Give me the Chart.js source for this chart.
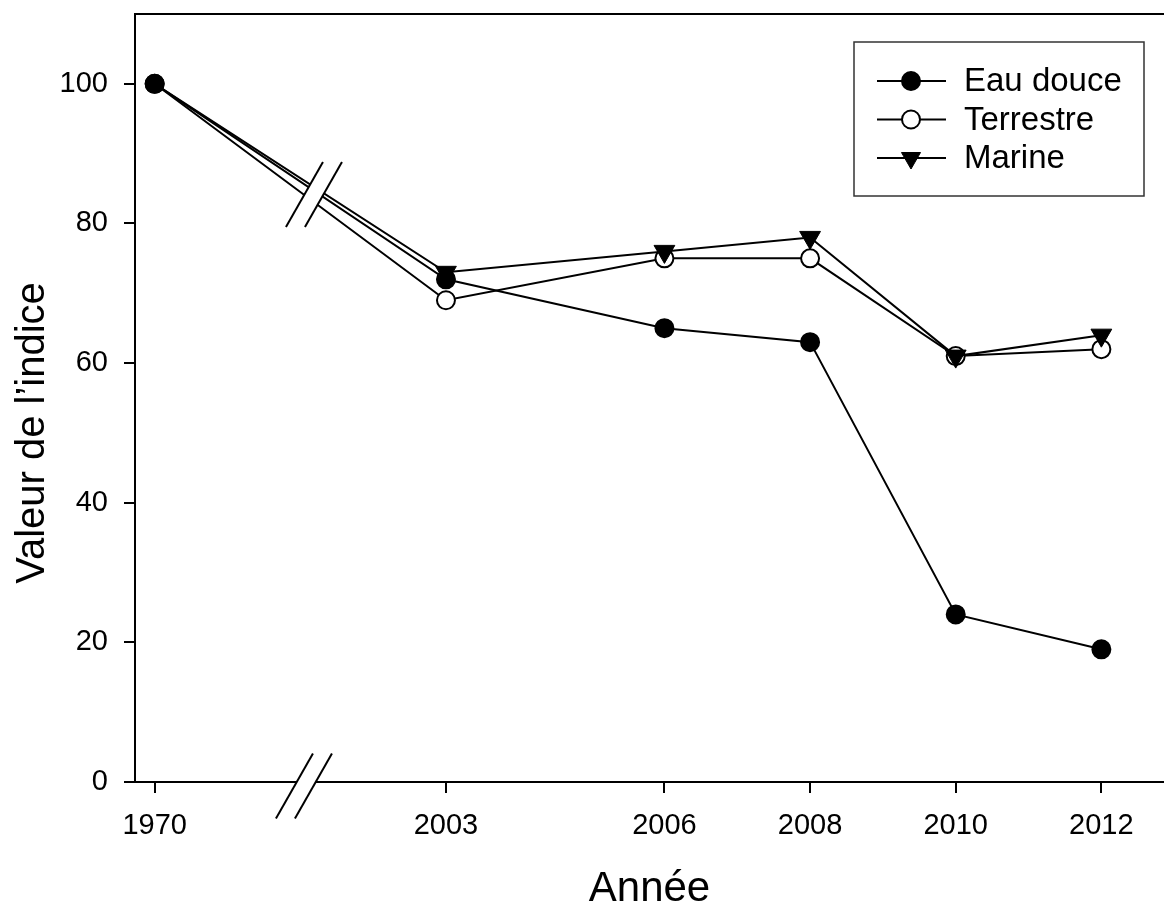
<!DOCTYPE html>
<html>
<head>
<meta charset="utf-8">
<script src="https://cdn.jsdelivr.net/npm/chart.js@4/dist/chart.umd.min.js"></script>
<style>
html, body { margin: 0; padding: 0; background: #fff; overflow: hidden; }
canvas { display: block; }
</style>
</head>
<body>
<canvas id="indexChart" width="1164" height="910"></canvas>
<script>
const years = [1970, 2003, 2006, 2008, 2010, 2012];
const eauDouce = [100, 72, 65, 63, 24, 19];
const terrestre = [100, 69, 75, 75, 61, 62];
const marine = [100, 73, 76, 78, 61, 64];
const yTickValues = [0, 20, 40, 60, 80, 100];

// broken x axis: 1970 sits 4 years before 2003
const breakShift = 29;
const breakAt = 2001.05;
function axisYear(y) { return y < 2000 ? y + breakShift : y; }
function realYear(v) { return v < 2000 ? v - breakShift : v; }

const fontFamily = '"Liberation Sans", Arial, sans-serif';

function toPoints(values) {
    return values.map((v, i) => ({ x: axisYear(years[i]), y: v }));
}

function drawMarker(ctx, ds, x, y) {
    ctx.save();
    ctx.fillStyle = ds.pointBackgroundColor;
    ctx.strokeStyle = '#000';
    ctx.lineWidth = ds.pointBorderWidth;
    ctx.beginPath();
    if (ds.pointStyle === 'triangle') {
        const r = 11;
        ctx.moveTo(x - r * 0.866, y - r * 0.5);
        ctx.lineTo(x + r * 0.866, y - r * 0.5);
        ctx.lineTo(x, y + r);
        ctx.closePath();
    } else {
        ctx.arc(x, y, ds.pointRadius, 0, Math.PI * 2);
    }
    ctx.fill();
    ctx.stroke();
    ctx.restore();
}

function drawBreak(ctx, cx, cy) {
    const dx = 18.5, dy = 32.5, gap = 9.5;
    ctx.save();
    ctx.fillStyle = '#fff';
    ctx.beginPath();
    ctx.moveTo(cx - gap - dx, cy + dy);
    ctx.lineTo(cx - gap + dx, cy - dy);
    ctx.lineTo(cx + gap + dx, cy - dy);
    ctx.lineTo(cx + gap - dx, cy + dy);
    ctx.closePath();
    ctx.fill();
    ctx.strokeStyle = '#000';
    ctx.lineWidth = 2;
    [-gap, gap].forEach(o => {
        ctx.beginPath();
        ctx.moveTo(cx + o - dx, cy + dy);
        ctx.lineTo(cx + o + dx, cy - dy);
        ctx.stroke();
    });
    ctx.restore();
}

// top frame line, axis breaks, y title and boxed legend
const decorPlugin = {
    id: 'decor',
    afterDraw(chart) {
        const ctx = chart.ctx;
        const area = chart.chartArea;
        const xs = chart.scales.x, ys = chart.scales.y;

        ctx.save();
        ctx.strokeStyle = '#000';
        ctx.lineWidth = 2;
        ctx.beginPath();
        ctx.moveTo(area.left, area.top);
        ctx.lineTo(area.right, area.top);
        ctx.stroke();
        ctx.restore();

        // break on the data lines
        const bx = xs.getPixelForValue(breakAt);
        let sumY = 0;
        chart.data.datasets.forEach((ds, i) => {
            const pts = chart.getDatasetMeta(i).data;
            const t = (bx - pts[0].x) / (pts[1].x - pts[0].x);
            sumY += pts[0].y + t * (pts[1].y - pts[0].y);
        });
        drawBreak(ctx, bx + 10, sumY / chart.data.datasets.length + 8);
        // break on the x axis
        drawBreak(ctx, bx, ys.getPixelForValue(0) + 4);

        // y axis title
        ctx.save();
        ctx.translate(33, (area.top + area.bottom) / 2 + 35);
        ctx.rotate(-Math.PI / 2);
        ctx.font = '40px ' + fontFamily;
        ctx.fillStyle = '#000';
        ctx.textAlign = 'center';
        ctx.textBaseline = 'middle';
        ctx.fillText('Valeur de l\u2019indice', 0, 0);
        ctx.restore();

        // legend
        const boxW = 290, boxH = 154;
        const left = area.right - 20 - boxW, top = area.top + 28;
        ctx.save();
        ctx.strokeStyle = '#333';
        ctx.lineWidth = 1.5;
        ctx.strokeRect(left, top, boxW, boxH);
        ctx.font = '33px ' + fontFamily;
        ctx.textBaseline = 'middle';
        chart.data.datasets.forEach((ds, i) => {
            const y = top + 39 + i * 38.5;
            ctx.strokeStyle = '#000';
            ctx.lineWidth = 2;
            ctx.beginPath();
            ctx.moveTo(left + 23, y);
            ctx.lineTo(left + 92, y);
            ctx.stroke();
            drawMarker(ctx, ds, left + 57, y);
            ctx.fillStyle = '#000';
            ctx.fillText(ds.label, left + 110, y + 1);
        });
        ctx.restore();
    }
};

const tickFont = { family: fontFamily, size: 29 };
const axisGrid = { display: true, drawOnChartArea: false, tickLength: 11, color: '#000', lineWidth: 2 };

new Chart(document.getElementById('indexChart'), {
    type: 'line',
    data: {
        datasets: [{
            label: 'Eau douce',
            data: toPoints(eauDouce),
            borderColor: '#000',
            borderWidth: 2,
            pointStyle: 'circle',
            pointRadius: 9,
            pointBorderWidth: 2,
            pointBackgroundColor: '#000',
            pointBorderColor: '#000',
            order: 0
        }, {
            label: 'Terrestre',
            data: toPoints(terrestre),
            borderColor: '#000',
            borderWidth: 2,
            pointStyle: 'circle',
            pointRadius: 9,
            pointBorderWidth: 2,
            pointBackgroundColor: '#fff',
            pointBorderColor: '#000',
            order: 2
        }, {
            label: 'Marine',
            data: toPoints(marine),
            borderColor: '#000',
            borderWidth: 2,
            pointStyle: 'triangle',
            pointRotation: 180,
            pointRadius: [0, 12, 12, 12, 12, 12],
            pointBorderWidth: 1,
            pointBackgroundColor: '#000',
            pointBorderColor: '#000',
            order: 1
        }]
    },
    options: {
        responsive: false,
        animation: false,
        layout: { autoPadding: false, padding: { top: 14, left: 0, right: 0, bottom: 0 } },
        plugins: {
            legend: { display: false },
            tooltip: { enabled: false }
        },
        scales: {
            x: {
                type: 'linear',
                min: 1998.73,
                max: 2012.86,
                border: { color: '#000', width: 2 },
                grid: axisGrid,
                ticks: {
                    font: tickFont,
                    color: '#000',
                    padding: 16,
                    maxRotation: 0,
                    autoSkip: false,
                    callback: v => String(realYear(v))
                },
                title: {
                    display: true,
                    text: 'Année',
                    color: '#000',
                    font: { family: fontFamily, size: 42, lineHeight: 1 },
                    padding: 0
                },
                afterBuildTicks: s => { s.ticks = years.map(y => ({ value: axisYear(y) })); },
                afterFit: s => { s.height = 128; s.paddingLeft = 0; s.paddingRight = 0; }
            },
            y: {
                min: 0,
                max: 110,
                border: { color: '#000', width: 2 },
                grid: axisGrid,
                ticks: { font: tickFont, color: '#000', padding: 16 },
                afterBuildTicks: s => { s.ticks = yTickValues.map(v => ({ value: v })); },
                afterFit: s => { s.width = 135; s.paddingTop = 0; s.paddingBottom = 0; }
            }
        }
    },
    plugins: [decorPlugin]
});
</script>
</body>
</html>
